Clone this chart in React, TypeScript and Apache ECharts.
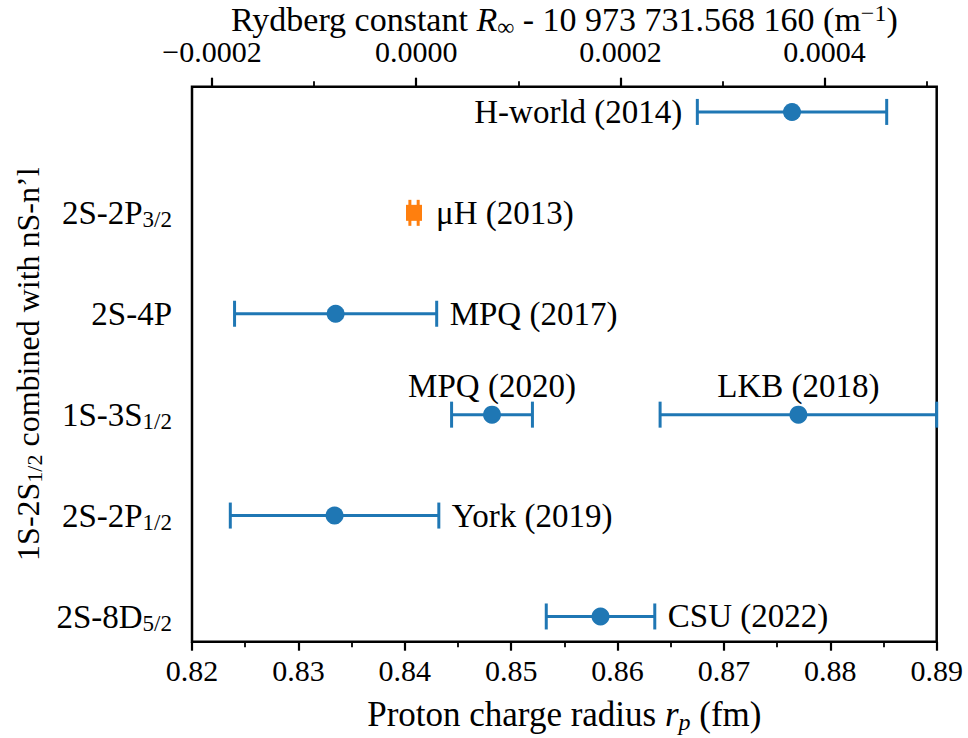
import React, { useEffect, useRef } from 'react';
import * as echarts from 'echarts';

// ---------- data ----------
const rowLabels = ['2S-8D', '2S-2P', '1S-3S', '2S-4P', '2S-2P', ''];
const rowSubs = ['5/2', '1/2', '1/2', '', '3/2', ''];

const names = ['H-world (2014)', 'μH (2013)', 'MPQ (2017)', 'MPQ (2020)', 'LKB (2018)', 'York (2019)', 'CSU (2022)'];
const radius = [0.8764, 0.84087, 0.8335, 0.8482, 0.877, 0.8334, 0.8584];
const uncert = [0.0089, 0.00039, 0.0095, 0.0038, 0.013, 0.0098, 0.0051];
const rows = [5, 4, 3, 2, 2, 1, 0];
const labelSide = ['left', 'right', 'right', 'top', 'top', 'right', 'right'];
const markerKind = ['circle', 'square', 'circle', 'circle', 'circle', 'circle', 'circle'];

const bottomTicks = [0.82, 0.83, 0.84, 0.85, 0.86, 0.87, 0.88, 0.89];

// ---------- style ----------
const F = '"Liberation Serif", "Times New Roman", serif';
const BLUE = '#1f77b4';
const ORANGE = '#ff7f0e';

const subStyle = (size: number, lh: number) => ({ fontSize: size, fontFamily: F, color: '#000', lineHeight: lh, verticalAlign: 'bottom' as const });

const option: any = {
  animation: false,
  backgroundColor: '#fff',
  grid: [
    { left: 192, top: 86.7, width: 744.7, height: 555, show: true, borderColor: '#000', borderWidth: 2.5, backgroundColor: 'transparent', outerBoundsMode: 'none', containLabel: false },
    { left: 212, top: 86.7, width: 816.8, height: 10, show: false, outerBoundsMode: 'none', containLabel: false },
    { left: 192, top: 111.7, width: 744.7, height: 505, show: false, outerBoundsMode: 'none', containLabel: false },
  ],
  xAxis: [
    {
      gridIndex: 0,
      type: 'value',
      position: 'bottom',
      min: bottomTicks[0],
      max: bottomTicks[bottomTicks.length - 1],
      interval: 0.01,
      axisLine: { show: false, onZero: false },
      axisTick: { show: true, inside: false, length: 9, lineStyle: { color: '#000', width: 2.2 } },
      minorTick: { show: true, splitNumber: 2, length: 5.5, lineStyle: { color: '#000', width: 1.8 } },
      splitLine: { show: false },
      minorSplitLine: { show: false },
      axisLabel: { color: '#000', fontSize: 30, fontFamily: F, margin: 14, formatter: (v: number) => v.toFixed(2) },
      name: '{m|Proton charge radius }{i|r}{s|p}{m| (fm)}',
      nameLocation: 'middle',
      nameGap: 54,
      nameTextStyle: {
        rich: {
          m: { fontSize: 35, fontFamily: F, color: '#000', lineHeight: 38 },
          i: { fontSize: 35, fontFamily: F, color: '#000', lineHeight: 38, fontStyle: 'italic' },
          s: { ...subStyle(24, 18), fontStyle: 'italic' },
        },
      },
    },
    {
      gridIndex: 1,
      type: 'value',
      position: 'top',
      min: -0.0002,
      max: 0.0006,
      interval: 0.0002,
      axisLine: { show: false, onZero: false },
      axisTick: { show: true, inside: false, length: 9, lineStyle: { color: '#000', width: 2.2 } },
      minorTick: { show: true, splitNumber: 2, length: 5.5, lineStyle: { color: '#000', width: 1.8 } },
      splitLine: { show: false },
      minorSplitLine: { show: false },
      axisLabel: {
        color: '#000',
        fontSize: 30,
        fontFamily: F,
        margin: 20,
        formatter: (v: number) => {
          if (v > 0.00055) return '';
          if (Math.abs(v) < 1e-12) return '0.0000';
          return (v < 0 ? '\u2212' : '') + Math.abs(v).toFixed(4);
        },
      },
    },
    {
      gridIndex: 0,
      type: 'value',
      position: 'top',
      min: 0,
      max: 1,
      axisLine: { show: false, onZero: false },
      axisTick: { show: false },
      axisLabel: { show: false },
      splitLine: { show: false },
      name: '{m|Rydberg constant }{i|R}{s|∞}{m| - 10 973 731.568 160 (m}{p|\u22121}{m|)}',
      nameLocation: 'middle',
      nameGap: 48,
      nameTextStyle: {
        rich: {
          m: { fontSize: 34, fontFamily: F, color: '#000', lineHeight: 38 },
          i: { fontSize: 34, fontFamily: F, color: '#000', lineHeight: 38, fontStyle: 'italic' },
          s: subStyle(24, 18),
          p: { fontSize: 24, fontFamily: F, color: '#000', lineHeight: 22, verticalAlign: 'top' },
        },
      },
    },
    { gridIndex: 2, type: 'value', show: false, min: 0, max: 1, axisLine: { onZero: false } },
  ],
  yAxis: [
    { gridIndex: 0, type: 'value', min: -0.25, max: 5.25, show: false, axisLine: { onZero: false } },
    { gridIndex: 1, type: 'value', show: false, min: 0, max: 1, axisLine: { onZero: false } },
    {
      gridIndex: 2,
      type: 'value',
      min: 0,
      max: rowLabels.length - 1,
      interval: 1,
      axisLine: { show: false, onZero: false },
      axisTick: { show: false },
      splitLine: { show: false },
      axisLabel: {
        margin: 20,
        formatter: (v: number) => {
          const i = Math.round(v);
          const main = rowLabels[i] || '';
          if (!main) return '';
          const sub = rowSubs[i];
          return sub ? `{m|${main}}{s|${sub}}` : `{m|${main}}`;
        },
        rich: {
          m: { fontSize: 33, fontFamily: F, color: '#000', lineHeight: 36 },
          s: subStyle(23, 16),
        },
      },
      name: '{m|1S-2S}{s|1/2}{m| combined with nS-n\u2019l}',
      nameLocation: 'middle',
      nameRotate: 90,
      nameGap: 145,
      nameTextStyle: {
        rich: {
          m: { fontSize: 32, fontFamily: F, color: '#000', lineHeight: 36 },
          s: subStyle(22, 16),
        },
      },
    },
  ],
  series: [
    {
      type: 'custom',
      xAxisIndex: 0,
      yAxisIndex: 0,
      clip: false,
      data: radius.map((r, i) => [r, rows[i], uncert[i], i]),
      renderItem: (params: any, api: any) => {
        const x = api.value(0);
        const y = api.value(1);
        const e = api.value(2);
        const i = api.value(3);
        const c = api.coord([x, y]);
        const l = api.coord([x - e, y]);
        const r = api.coord([x + e, y]);
        const kind = markerKind[i];
        const color = kind === 'square' ? ORANGE : BLUE;
        const cap = 13;
        const half = 9;
        const children: any[] = [
          { type: 'line', shape: { x1: l[0], y1: c[1], x2: r[0], y2: c[1] }, style: { stroke: color, lineWidth: 3 } },
          { type: 'line', shape: { x1: l[0], y1: c[1] - cap, x2: l[0], y2: c[1] + cap }, style: { stroke: color, lineWidth: 3 } },
          { type: 'line', shape: { x1: r[0], y1: c[1] - cap, x2: r[0], y2: c[1] + cap }, style: { stroke: color, lineWidth: 3 } },
        ];
        if (kind === 'square') {
          children.push({ type: 'rect', shape: { x: c[0] - 8, y: c[1] - 8, width: 16, height: 16 }, style: { fill: color } });
        } else {
          children.push({ type: 'circle', shape: { cx: c[0], cy: c[1], r: half }, style: { fill: color } });
        }
        const side = labelSide[i];
        let tx = c[0];
        let ty = c[1];
        let align = 'center';
        if (side === 'right') {
          tx = Math.max(r[0], c[0] + half) + 13;
          align = 'left';
        } else if (side === 'left') {
          tx = Math.min(l[0], c[0] - half) - 15;
          align = 'right';
        } else {
          ty = c[1] - 29;
        }
        children.push({
          type: 'text',
          style: { text: names[i], x: tx, y: ty, fill: '#000', fontSize: 33, fontFamily: F, align, verticalAlign: 'middle' },
        });
        return { type: 'group', children };
      },
    },
  ],
};

export default function App() {
  const ref = useRef<HTMLDivElement>(null);
  useEffect(() => {
    const chart = echarts.init(ref.current!, null, { renderer: 'svg' });
    chart.setOption(option);
    return () => chart.dispose();
  }, []);
  return (
    <div
      ref={ref}
      style={{ position: 'fixed', left: 0, top: 0, width: 968, height: 738, background: '#fff' }}
    />
  );
}
